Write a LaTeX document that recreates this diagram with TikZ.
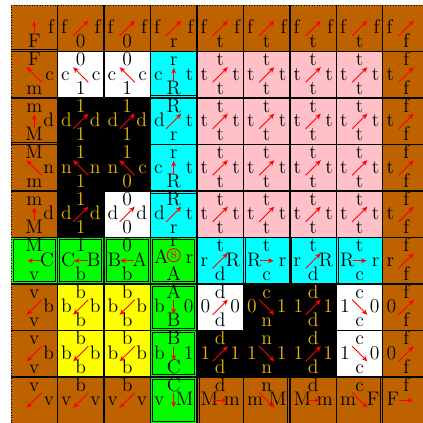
\documentclass[tikz,border=0pt]{standalone}
\usetikzlibrary{arrows.meta,calc}
\definecolor{BrownClr}{RGB}{190,98,0}
\definecolor{PinkClr}{RGB}{255,192,200}
\definecolor{GoldClr}{RGB}{228,182,0}
\definecolor{CyanClr}{RGB}{0,255,255}
\definecolor{GreenClr}{RGB}{0,255,0}
\definecolor{YellowClr}{RGB}{255,255,0}
\tikzset{
  lab/.style={inner sep=0pt,font=\fontsize{12}{14}\selectfont},
  flow/.style={red,line width=0.6pt,-{Stealth[length=3.5pt,width=3pt]}},
  gridline/.style={line width=0.65pt},
  frameline/.style={line width=0.55pt}
}
% \tile[text colour]{col}{row}{fill}{N}{E}{S}{W}{arrow angle}
\newcommand{\tile}[9][black]{%
  \fill[#4] (#2,-#3) rectangle ++(1,-1);
  \coordinate (c#3#2) at (#2+0.5,-#3-0.5);
  \node[lab,text=#1,anchor=base] (n#3#2) at ($(c#3#2)+(0,0.19)$) {#5};
  \node[lab,text=#1,anchor=base east] (e#3#2) at ($(c#3#2)+(0.43,-0.12)$) {#6};
  \node[lab,text=#1,anchor=base] (s#3#2) at ($(c#3#2)+(0,-0.42)$) {#7};
  \node[lab,text=#1,anchor=base west] (w#3#2) at ($(c#3#2)+(-0.43,-0.12)$) {#8};
  \if\relax\detokenize{#9}\relax\else
    \pgfmathsetmacro\arlen{0.15+0.08*abs(sin(2*#9))}
    \pgfmathsetmacro\arback{#9+180}
    \draw[flow] ($(c#3#2)+(\arback:\arlen)$) -- ($(c#3#2)+(#9:\arlen)$);
  \fi
}

\begin{document}
\begin{tikzpicture}
\useasboundingbox (-0.237,0.108) rectangle (8.86,-8.99);
\clip (-0.237,0.108) rectangle (8.86,-8.99);

% row 0
\tile{0}{0}{BrownClr}{}{f}{F}{}{90}
\tile{1}{0}{BrownClr}{}{f}{0}{f}{45}
\tile{2}{0}{BrownClr}{}{f}{0}{f}{45}
\tile{3}{0}{BrownClr}{}{f}{r}{f}{45}
\foreach \j in {4,...,7} {\tile{\j}{0}{BrownClr}{}{f}{t}{f}{45}}
\tile{8}{0}{BrownClr}{}{}{f}{f}{45}

% row 1
\tile{0}{1}{BrownClr}{F}{c}{m}{}{135}
\tile{1}{1}{white}{0}{c}{1}{c}{135}
\tile{2}{1}{white}{0}{c}{1}{c}{135}
\tile{3}{1}{CyanClr}{r}{t}{R}{c}{90}

% row 2
\tile{0}{2}{BrownClr}{m}{d}{M}{}{90}
\tile[GoldClr]{1}{2}{black}{1}{d}{1}{d}{45}
\tile[GoldClr]{2}{2}{black}{1}{d}{1}{d}{45}
\tile{3}{2}{CyanClr}{R}{t}{r}{d}{45}

% row 3
\tile{0}{3}{BrownClr}{M}{n}{m}{}{135}
\tile[GoldClr]{1}{3}{black}{1}{n}{1}{n}{135}
\tile[GoldClr]{2}{3}{black}{1}{c}{0}{n}{135}
\tile{3}{3}{CyanClr}{r}{t}{R}{c}{90}

% row 4
\tile{0}{4}{BrownClr}{m}{d}{M}{}{90}
\tile[GoldClr]{1}{4}{black}{1}{d}{1}{d}{45}
\tile{2}{4}{white}{0}{d}{0}{d}{45}
\tile{3}{4}{CyanClr}{R}{t}{r}{d}{45}

% pink block and right column
\foreach \i in {1,...,4} {
  \foreach \j in {4,...,7} {\tile{\j}{\i}{PinkClr}{t}{t}{t}{t}{45}}
  \tile{8}{\i}{BrownClr}{f}{}{f}{t}{45}
}

% row 5
\tile{0}{5}{GreenClr}{M}{C}{v}{}{180}
\tile{1}{5}{GreenClr}{1}{B}{b}{C}{180}
\tile{2}{5}{GreenClr}{0}{A}{b}{B}{180}
\tile{3}{5}{GreenClr}{}{}{A}{}{}
\node[lab,anchor=base] (rtop) at ($(c53)+(0,0.31)$) {r};
\node[lab,anchor=base east] (rright) at ($(c53)+(0.43,-0.07)$) {r};
\node[lab,anchor=base west] (aleft) at ($(c53)+(-0.43,-0.07)$) {A};
\node[lab,circle,draw=red,line width=0.6pt,text=red,minimum size=0.28cm,
  font=\fontsize{9}{10}\selectfont] (seed) at ($(c53)+(0,0.12)$) {s};
\tile{4}{5}{CyanClr}{t}{R}{d}{r}{45}
\tile{5}{5}{CyanClr}{t}{r}{c}{R}{0}
\tile{6}{5}{CyanClr}{t}{R}{d}{r}{45}
\tile{7}{5}{CyanClr}{t}{r}{c}{R}{0}
\tile{8}{5}{BrownClr}{f}{}{f}{r}{45}

% row 6
\tile{0}{6}{BrownClr}{v}{b}{v}{}{225}
\tile{1}{6}{YellowClr}{b}{b}{b}{b}{225}
\tile{2}{6}{YellowClr}{b}{b}{b}{b}{225}
\tile{3}{6}{GreenClr}{A}{0}{B}{b}{270}
\tile{4}{6}{white}{d}{0}{d}{0}{45}
\tile[GoldClr]{5}{6}{black}{c}{1}{n}{0}{-45}
\tile[GoldClr]{6}{6}{black}{d}{1}{d}{1}{45}
\tile{7}{6}{white}{c}{0}{c}{1}{-45}
\tile{8}{6}{BrownClr}{f}{}{f}{0}{45}

% row 7
\tile{0}{7}{BrownClr}{v}{b}{v}{}{225}
\tile{1}{7}{YellowClr}{b}{b}{b}{b}{225}
\tile{2}{7}{YellowClr}{b}{b}{b}{b}{225}
\tile{3}{7}{GreenClr}{B}{1}{C}{b}{270}
\tile[GoldClr]{4}{7}{black}{d}{1}{d}{1}{45}
\tile[GoldClr]{5}{7}{black}{n}{1}{n}{1}{-45}
\tile[GoldClr]{6}{7}{black}{d}{1}{d}{1}{45}
\tile{7}{7}{white}{c}{0}{c}{1}{-45}
\tile{8}{7}{BrownClr}{f}{}{f}{0}{45}

% row 8
\tile{0}{8}{BrownClr}{v}{v}{}{}{225}
\tile{1}{8}{BrownClr}{b}{v}{}{v}{225}
\tile{2}{8}{BrownClr}{b}{v}{}{v}{225}
\tile{3}{8}{GreenClr}{C}{M}{}{v}{270}
\tile{4}{8}{BrownClr}{d}{m}{}{M}{0}
\tile{5}{8}{BrownClr}{n}{M}{}{m}{-45}
\tile{6}{8}{BrownClr}{d}{m}{}{M}{0}
\tile{7}{8}{BrownClr}{c}{F}{}{m}{-45}
\tile{8}{8}{BrownClr}{f}{}{}{F}{0}

% grid
\foreach \k in {1,...,8} {
  \draw[gridline] (\k,0) -- (\k,-9);
  \draw[gridline] (0,-\k) -- (9,-\k);
}
\draw[densely dotted,line width=0.6pt] (0,-9) -- (0,0) -- (9,0);

% doubled edges
\draw[frameline] (0,-0.95) -- (1,-0.95);
\draw[frameline] (0,-2.95) -- (1,-2.95);
\draw[frameline] (3,-1.94) -- (4,-1.94);
\draw[frameline] (3,-4.05) -- (4,-4.05);
\foreach \j/\i in {0/5,1/5,2/5,3/5,3/6,3/7,3/8}
  \draw[frameline] (\j+0.05,-\i-0.05) rectangle (\j+0.95,-\i-0.95);
\foreach \k in {5,6,7}
  \draw[frameline] (\k+0.04,-5) -- (\k+0.04,-6);
\draw[frameline] (4.05,-8) -- (4.05,-9);
\draw[frameline] (5.95,-8) -- (5.95,-9);
\draw[frameline] (7.95,-8) -- (7.95,-9);

\end{tikzpicture}
\end{document}
